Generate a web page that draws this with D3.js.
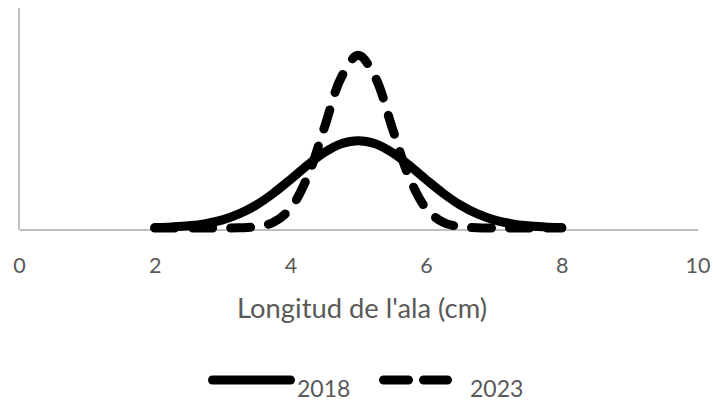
<!DOCTYPE html>
<html>
<head>
<meta charset="utf-8">
<script src="https://cdn.jsdelivr.net/npm/d3@7/dist/d3.min.js"></script>
<style>
  html, body { margin: 0; padding: 0; background: #fff; }
  svg { display: block; }
  text { font-family: Lato, "Open Sans", sans-serif; fill: #595959; }
</style>
</head>
<body>
<svg id="chart" width="713" height="402"></svg>
<script>
// ---- data ----
const xValues = [2, 2.25, 2.5, 2.75, 3, 3.25, 3.5, 3.75, 4, 4.25, 4.5, 4.75, 5,
                 5.25, 5.5, 5.75, 6, 6.25, 6.5, 6.75, 7, 7.25, 7.5, 7.75, 8];
const series2018 = [0.002, 0.005, 0.010, 0.020, 0.037, 0.065, 0.105, 0.158, 0.220, 0.285, 0.343, 0.383, 0.397,
                    0.383, 0.343, 0.285, 0.220, 0.158, 0.105, 0.065, 0.037, 0.020, 0.010, 0.005, 0.002];
const series2023 = [0.000, 0.000, 0.000, 0.000, 0.000, 0.001, 0.006, 0.026, 0.089, 0.231, 0.456, 0.685, 0.785,
                    0.685, 0.456, 0.231, 0.089, 0.026, 0.006, 0.001, 0.000, 0.000, 0.000, 0.000, 0.000];
const seriesNames = ["2018", "2023"];
const xTicks = [0, 2, 4, 6, 8, 10];
const xDomain = [0, 10];
const yDomain = [0, 1];
const axisTitle = "Longitud de l'ala (cm)";

// ---- layout ----
const svg = d3.select("#chart");
const plotL = 19, plotR = 697.5, plotT = 8, plotB = 229.5, zeroY = 228;

const x = d3.scaleLinear().domain(xDomain).range([plotL, plotR]);
const y = d3.scaleLinear().domain(yDomain).range([zeroY, plotT]);

// vertical axis line (no labels)
svg.append("line")
  .attr("x1", plotL).attr("x2", plotL)
  .attr("y1", plotT).attr("y2", plotB)
  .attr("stroke", "#bfbfbf").attr("stroke-width", 2);

// x axis
const xAxis = d3.axisBottom(x).tickValues(xTicks).tickSize(0).tickFormat(d3.format("d"));
const gx = svg.append("g").attr("transform", `translate(0,${plotB})`).call(xAxis);
gx.select(".domain").attr("stroke", "#bfbfbf").attr("stroke-width", 2);
gx.selectAll("text")
  .attr("y", 43.5).attr("dy", 0)
  .style("font-family", "Lato, 'Open Sans', sans-serif")
  .style("font-size", "21.5px")
  .attr("fill", "#595959");

// lines
const pts2018 = xValues.map((d, i) => [d, series2018[i]]);
const pts2023 = xValues.map((d, i) => [d, series2023[i]]);
const line = d3.line().x(d => x(d[0])).y(d => y(d[1])).curve(d3.curveCatmullRom.alpha(0.5));

svg.append("path").datum(pts2018)
  .attr("d", line)
  .attr("fill", "none").attr("stroke", "#000")
  .attr("stroke-width", 9).attr("stroke-linecap", "round").attr("stroke-linejoin", "round");

svg.append("path").datum(pts2023)
  .attr("d", line)
  .attr("fill", "none").attr("stroke", "#000")
  .attr("stroke-width", 9).attr("stroke-linecap", "round").attr("stroke-linejoin", "round")
  .attr("stroke-dasharray", "20,18");

// axis title (sized to span ~250px like the reference)
const title = svg.append("text")
  .attr("x", 362).attr("y", 318)
  .attr("text-anchor", "middle")
  .style("font-size", "24px")
  .text(axisTitle);
const tw = title.node().getComputedTextLength();
if (tw > 0) title.style("font-size", (24 * 250 / tw).toFixed(2) + "px");

// legend
const legY = 380;
svg.append("line")
  .attr("x1", 212.5).attr("x2", 290.5).attr("y1", legY).attr("y2", legY)
  .attr("stroke", "#000").attr("stroke-width", 9).attr("stroke-linecap", "round");
svg.append("text").attr("x", 297).attr("y", 397)
  .style("font-size", "23px").text(seriesNames[0]);

svg.append("line")
  .attr("x1", 383.5).attr("x2", 447.5).attr("y1", legY).attr("y2", legY)
  .attr("stroke", "#000").attr("stroke-width", 9).attr("stroke-linecap", "round")
  .attr("stroke-dasharray", "25,15");
svg.append("text").attr("x", 470).attr("y", 397)
  .style("font-size", "23px").text(seriesNames[1]);
</script>
</body>
</html>
